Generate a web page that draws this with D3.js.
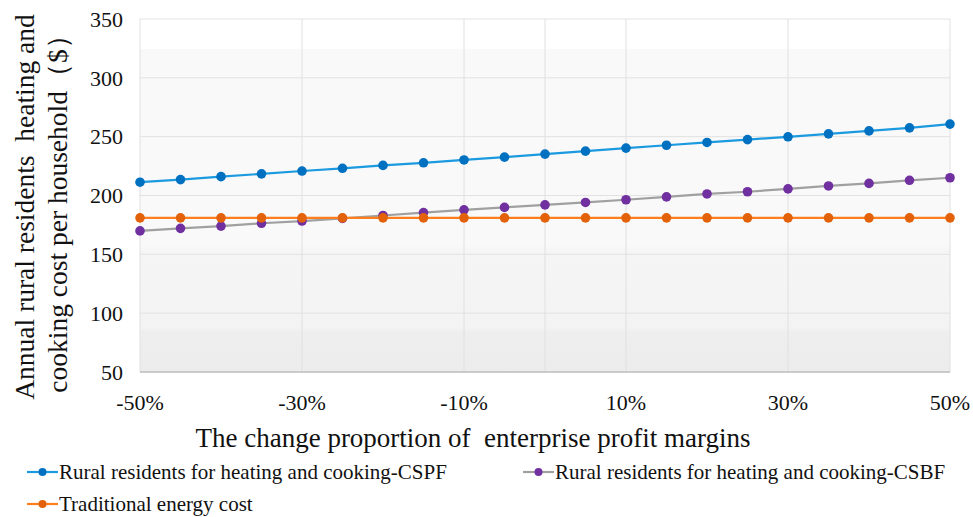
<!DOCTYPE html>
<html>
<head>
<meta charset="utf-8">
<script src="https://cdn.jsdelivr.net/npm/d3@7/dist/d3.min.js"></script>
<style>
  html, body { margin: 0; padding: 0; background: #fff; }
  svg { display: block; }
  text { font-family: "Liberation Serif", "Times New Roman", serif; fill: #111; white-space: pre; }
</style>
</head>
<body>
<svg id="chart" width="973" height="517"></svg>
<script>
const categories = [-50,-45,-40,-35,-30,-25,-20,-15,-10,-5,0,5,10,15,20,25,30,35,40,45,50];
const tickLabels = [-50,-30,-10,10,30,50];
const gridX = [-30,-10,0,10,30,50];
const yTicks = [50,100,150,200,250,300,350];
const cspf = [211.3,213.5,216.0,218.4,220.8,223.1,225.6,227.8,230.2,232.6,235.2,237.7,240.3,242.7,245.1,247.5,249.9,252.4,254.9,257.5,260.7];
const csbf = [169.9,172.1,174.0,176.4,178.3,180.6,183.0,185.5,187.8,189.9,192.0,194.1,196.4,198.8,201.3,203.2,205.6,208.1,210.3,212.9,215.1];
const trad = [181,181,181,181,181,181,181,181,181,181,181,181,181,181,181,181,181,181,181,181,181];
const seriesNames = ["Rural residents for heating and cooking-CSPF","Rural residents for heating and cooking-CSBF","Traditional energy cost"];

const svg = d3.select("#chart");
const L = 140, R = 950, T = 19, B = 372;
const x = d3.scaleLinear().domain([-50,50]).range([L,R]);
const y = d3.scaleLinear().domain([50,350]).range([B,T]);

// background bands
const defs = svg.append("defs");
const grad = defs.append("linearGradient").attr("id","bg").attr("x1",0).attr("y1",0).attr("x2",0).attr("y2",1);
[[0,"#ffffff"],[0.085,"#ffffff"],[0.086,"#f9f9f9"],[0.64,"#f9f9f9"],[0.66,"#f5f5f5"],[0.875,"#f3f3f3"],[0.885,"#eeeeee"],[1,"#ececec"]]
  .forEach(([o,c]) => grad.append("stop").attr("offset",o).attr("stop-color",c));
svg.append("rect").attr("x",L).attr("y",T).attr("width",R-L).attr("height",B-T).attr("fill","url(#bg)");

// horizontal grid
svg.append("g").selectAll("line").data(yTicks).join("line")
  .attr("x1",L).attr("x2",R).attr("y1",d=>y(d)).attr("y2",d=>y(d))
  .attr("stroke","#e2e2e2").attr("stroke-width",1);
// vertical grid
svg.append("g").selectAll("line").data(gridX).join("line")
  .attr("x1",d=>x(d)).attr("x2",d=>x(d)).attr("y1",T).attr("y2",B)
  .attr("stroke","#e0e0e0").attr("stroke-width",1);
// left border and bottom axis
svg.append("line").attr("x1",L).attr("x2",L).attr("y1",T).attr("y2",B).attr("stroke","#e0e0e0");
svg.append("line").attr("x1",L).attr("x2",R).attr("y1",B).attr("y2",B).attr("stroke","#bfbfbf").attr("stroke-width",1.5);

// y tick labels
svg.append("g").selectAll("text").data(yTicks).join("text")
  .attr("x",123).attr("y",d=>y(d)).attr("dy","0.35em").attr("text-anchor","end")
  .attr("font-size",22).text(d=>d);
// x tick labels
svg.append("g").selectAll("text").data(tickLabels).join("text")
  .attr("x",d=>x(d)).attr("y",410).attr("text-anchor","middle")
  .attr("font-size",22).text(d=>d+"%");

// axis titles
svg.append("text").attr("x",473).attr("y",447).attr("text-anchor","middle")
  .attr("font-size",27).text("The change proportion of  enterprise profit margins");
const yt = svg.append("text").attr("transform","translate(34,207) rotate(-90)").attr("text-anchor","middle").attr("font-size",27.5);
yt.append("tspan").attr("x",0).attr("y",0).text("Annual rural residents  heating and");
yt.append("tspan").attr("x",0).attr("y",33).text("cooking cost per household（$）");

// series
const series = [
  {name:seriesNames[0], values:cspf, line:"#1b9ae0", dot:"#0070c0"},
  {name:seriesNames[1], values:csbf, line:"#a0a0a0", dot:"#7030a0"},
  {name:seriesNames[2], values:trad, line:"#ff7f1e", dot:"#e36209"}
];
const lineGen = d3.line().x((d,i)=>x(categories[i])).y(d=>y(d));
const drawOrder = [1,2,0];
drawOrder.forEach(k => {
  const s = series[k];
  svg.append("path").attr("d",lineGen(s.values)).attr("fill","none").attr("stroke",s.line).attr("stroke-width",2.2);
  svg.append("g").selectAll("circle").data(s.values).join("circle")
    .attr("cx",(d,i)=>x(categories[i])).attr("cy",d=>y(d)).attr("r",4.8).attr("fill",s.dot);
});

// legend
const legendPos = [[27,472],[523,472],[27,504]];
series.forEach((s,k) => {
  const [lx,ly] = legendPos[k];
  const g = svg.append("g");
  g.append("line").attr("x1",lx).attr("x2",lx+31).attr("y1",ly).attr("y2",ly).attr("stroke",s.line).attr("stroke-width",2.2);
  g.append("circle").attr("cx",lx+15.5).attr("cy",ly).attr("r",4).attr("fill",s.dot);
  g.append("text").attr("x",lx+32).attr("y",ly).attr("dy","0.33em").attr("font-size",21).text(s.name);
});
</script>
</body>
</html>
